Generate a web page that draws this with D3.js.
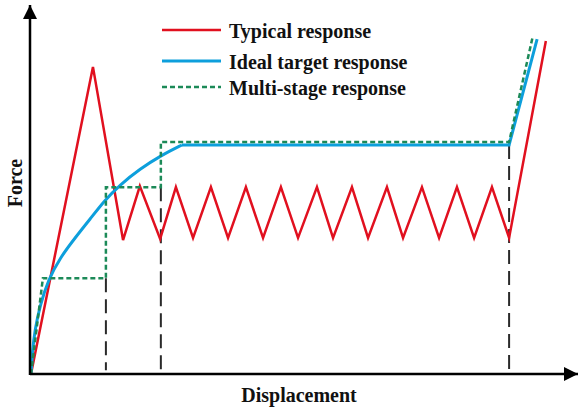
<!DOCTYPE html>
<html>
<head>
<meta charset="utf-8">
<script src="https://cdn.jsdelivr.net/npm/d3@7"></script>
<style>
  body { margin: 0; background: #fff; }
  svg text { font-family: "Liberation Serif", "Times New Roman", serif; font-weight: bold; fill: #111; }
</style>
</head>
<body>
<div id="chart"></div>
<script>
// displacement / force values (arbitrary units)
const typicalX = [0, 17.7, 26.3, 31.1, 36.9, 41.4, 46.3, 51.4, 56.3, 61.4, 66.3, 71.4, 76.3, 81.7, 86.3, 91.7, 96.3, 101.7, 106.3, 111.7, 116.6, 121.7, 126.6, 131.7, 136.6, 147.1];
const typicalY = [0, 83.0, 36.2, 50.8, 36.5, 50.5, 36.8, 50.5, 36.8, 50.5, 36.8, 50.5, 36.8, 50.5, 36.8, 50.5, 36.8, 50.5, 36.8, 50.5, 36.8, 50.5, 36.8, 50.5, 36.8, 90.0];

const idealCurveX = [0, 0.4, 1.1, 2.6, 4.9, 8.3, 12.6, 16.9, 21.1, 25.4, 31.1, 37.4, 43.1];
const idealCurveY = [0, 6.0, 11.9, 18.6, 25.4, 31.4, 36.8, 41.9, 47.0, 51.1, 55.4, 59.2, 61.9];
const idealTailX = [43.1, 136.6, 144.6];
const idealTailY = [61.9, 61.9, 90.5];

const multiX = [0, 3.4, 21.4, 21.4, 37.1, 37.1, 136.6, 143.4];
const multiY = [0, 25.9, 25.9, 50.5, 50.5, 62.7, 62.7, 91.4];

// vertical guide lines: x position and top value
const guideX = [21.4, 37.1, 136.6];
const guideTop = [25.9, 50.5, 61.9];

const legendLabels = ['Typical response', 'Ideal target response', 'Multi-stage response'];
const xLabel = 'Displacement';
const yLabel = 'Force';

const width = 579, height = 412;
const red = '#e1101f', blue = '#0d9fdc', green = '#1c8a58';

const svg = d3.select('#chart')
  .append('svg')
  .attr('width', width)
  .attr('height', height);

const x = d3.scaleLinear().domain([0, 156]).range([31, 577]);
const y = d3.scaleLinear().domain([0, 100]).range([374, 4]);

const zip = (xs, ys) => xs.map((v, i) => [v, ys[i]]);
const line = d3.line().x(d => x(d[0])).y(d => y(d[1]));
const smooth = d3.line().x(d => x(d[0])).y(d => y(d[1])).curve(d3.curveBasis);

// guides
svg.append('g')
  .selectAll('line')
  .data(guideX)
  .enter()
  .append('line')
  .attr('x1', d => x(d))
  .attr('x2', d => x(d))
  .attr('y1', (d, i) => y(guideTop[i]))
  .attr('y2', y(1))
  .attr('stroke', '#2a2a2a')
  .attr('stroke-width', 2)
  .attr('stroke-dasharray', '14,7');

// typical response
svg.append('path')
  .datum(zip(typicalX, typicalY))
  .attr('d', line)
  .attr('fill', 'none')
  .attr('stroke', red)
  .attr('stroke-width', 2.5);

// ideal target response
svg.append('path')
  .datum(zip(idealCurveX, idealCurveY))
  .attr('d', smooth)
  .attr('fill', 'none')
  .attr('stroke', blue)
  .attr('stroke-width', 3);

svg.append('path')
  .datum(zip(idealTailX, idealTailY))
  .attr('d', line)
  .attr('fill', 'none')
  .attr('stroke', blue)
  .attr('stroke-width', 3);

// multi-stage response
svg.append('path')
  .datum(zip(multiX, multiY))
  .attr('d', line)
  .attr('fill', 'none')
  .attr('stroke', green)
  .attr('stroke-width', 2.5)
  .attr('stroke-dasharray', '5,3');

// axes with arrows
svg.append('defs').append('marker')
  .attr('id', 'arrow')
  .attr('viewBox', '0 0 10 10')
  .attr('refX', 10)
  .attr('refY', 5)
  .attr('markerUnits', 'userSpaceOnUse')
  .attr('markerWidth', 17)
  .attr('markerHeight', 14)
  .attr('orient', 'auto')
  .append('path')
  .attr('d', 'M0,0L10,5L0,10Z')
  .attr('fill', '#000');

svg.append('line')
  .attr('x1', x(0) - 1).attr('y1', y(0))
  .attr('x2', 578).attr('y2', y(0))
  .attr('stroke', '#000')
  .attr('stroke-width', 2.5)
  .attr('marker-end', 'url(#arrow)');

svg.append('line')
  .attr('x1', 30).attr('y1', y(0) + 1)
  .attr('x2', 30).attr('y2', 5)
  .attr('stroke', '#000')
  .attr('stroke-width', 2.5)
  .attr('marker-end', 'url(#arrow)');

// axis labels
svg.append('text')
  .attr('x', 299)
  .attr('y', 402)
  .attr('text-anchor', 'middle')
  .attr('font-size', 20)
  .text(xLabel);

svg.append('text')
  .attr('transform', 'translate(22,183) rotate(-90)')
  .attr('text-anchor', 'middle')
  .attr('font-size', 20)
  .text(yLabel);

// legend
const legend = svg.append('g').attr('transform', 'translate(162,30)');
const legendColors = [red, blue, green];
const legendDash = [null, null, '5,3'];
const legendY = [0, 31, 57];

legend.selectAll('line')
  .data(legendLabels)
  .enter()
  .append('line')
  .attr('x1', 0).attr('x2', 59)
  .attr('y1', (d, i) => legendY[i])
  .attr('y2', (d, i) => legendY[i])
  .attr('stroke', (d, i) => legendColors[i])
  .attr('stroke-width', (d, i) => i === 1 ? 3 : 2.5)
  .attr('stroke-dasharray', (d, i) => legendDash[i]);

legend.selectAll('text')
  .data(legendLabels)
  .enter()
  .append('text')
  .attr('x', 67)
  .attr('y', (d, i) => legendY[i] + 8)
  .attr('font-size', 20)
  .text(d => d);
</script>
</body>
</html>
